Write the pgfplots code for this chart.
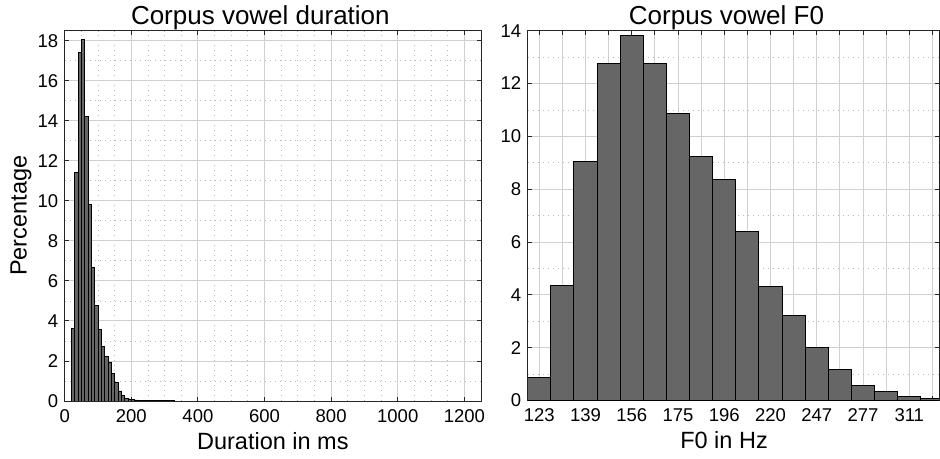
\documentclass[border=0pt]{standalone}
\usepackage{pgfplots}
\pgfplotsset{compat=1.18}
\usepackage{fontspec}
\setmainfont{Liberation Sans}
\definecolor{spine}{HTML}{262626}
\definecolor{gridmaj}{HTML}{D0D0D0}
\definecolor{gridmin}{HTML}{B8B8B8}
\definecolor{barfill}{HTML}{666666}
\pgfplotsset{
  myax/.style={
    scale only axis,
    anchor=south west,
    axis line style={draw=spine, line width=0.9bp},
    tick style={draw=spine, line width=0.9bp},
    tick align=inside,
    xtick pos=both, ytick pos=both,
    major tick length=4bp,
    minor tick length=0bp,
    grid=both,
    major grid style={draw=gridmaj, line width=0.9bp},
    minor grid style={draw=gridmin, line width=0.8bp, dash pattern=on 0.8bp off 4.2bp},
    /pgf/number format/assume math mode=true,
    /pgf/number format/1000 sep={},
    ticklabel style={font=\fontsize{18.5bp}{22bp}\selectfont, text=black},
    yticklabel style={xshift=-3bp},
    xticklabel style={yshift=-5bp},
    title style={anchor=base, yshift=0bp, font=\fontsize{26bp}{30bp}\selectfont},
    xlabel style={at={(axis description cs:0.5,0)}, anchor=base, yshift=-48bp, font=\fontsize{23.5bp}{28bp}\selectfont},
    ylabel style={font=\fontsize{23.5bp}{28bp}\selectfont},
    scaled ticks=false,
  }
}
\pgfplotstableread{
x y
20 3.62
30 11.44
40 17.42
50 18.05
60 14.21
70 9.82
80 6.68
90 4.76
100 3.59
110 2.71
120 2.24
130 1.95
140 1.39
150 0.92
160 0.50
170 0.27
180 0.15
190 0.10
200 0.07
210 0.05
220 0.04
230 0.03
240 0.03
250 0.02
260 0.02
270 0.02
280 0.01
290 0.01
300 0.01
310 0.01
320 0.01
330 0
340 0
350 0
360 0
370 0
380 0
390 0
400 0
450 0
500 0
550 0
600 0
650 0
700 0
750 0
800 0
850 0
900 0
950 0
1000 0
1050 0
1100 0
1150 0
1200 0
}\durtab
\pgfplotstableread{
x y
-0.5 0.88
0.5 4.37
1.5 9.05
2.5 12.77
3.5 13.80
4.5 12.77
5.5 10.88
6.5 9.22
7.5 8.38
8.5 6.38
9.5 4.33
10.5 3.23
11.5 1.99
12.5 1.17
13.5 0.58
14.5 0.34
15.5 0.16
16.5 0.08
17.5 0.08
}\fotab
\begin{document}
\begin{tikzpicture}
\useasboundingbox (0,0) rectangle (940bp,459bp);
\begin{axis}[myax,
  at={(64.7bp,58bp)}, width=416.3bp, height=370.3bp,
  xmin=0, xmax=1250, ymin=0, ymax=18.5,
  xtick={0,200,...,1200}, ytick={0,2,...,18},
  minor x tick num=3, minor y tick num=1,
  title={Corpus vowel duration}, title style={at={(0.47,1)}},
  xlabel={Duration in ms},
  ylabel={Percentage},
  ylabel style={at={(axis description cs:-0.0913,0.5)}, anchor=base, rotate=0},
]
\addplot[ybar interval, fill=barfill, draw=black, line width=0.7bp] table[x=x,y=y] {\durtab};
\end{axis}
\begin{axis}[myax,
  at={(527.7bp,58.5bp)}, width=411.6bp, height=369.8bp,
  xmin=-0.5, xmax=17.3, ymin=0, ymax=14,
  xtick={0,1,...,17},
  xticklabels={123,,139,,156,,175,,196,,220,,247,,277,,311,},
  ytick={0,2,...,14},
  minor y tick num=1,
  title={Corpus vowel F0}, title style={at={(0.483,1)}},
  xlabel={F0 in Hz}, xlabel style={at={(axis description cs:0.477,0)}},
]
\addplot[ybar interval, fill=barfill, draw=black, line width=1bp] table[x=x,y=y] {\fotab};
\end{axis}
\end{tikzpicture}
\end{document}
